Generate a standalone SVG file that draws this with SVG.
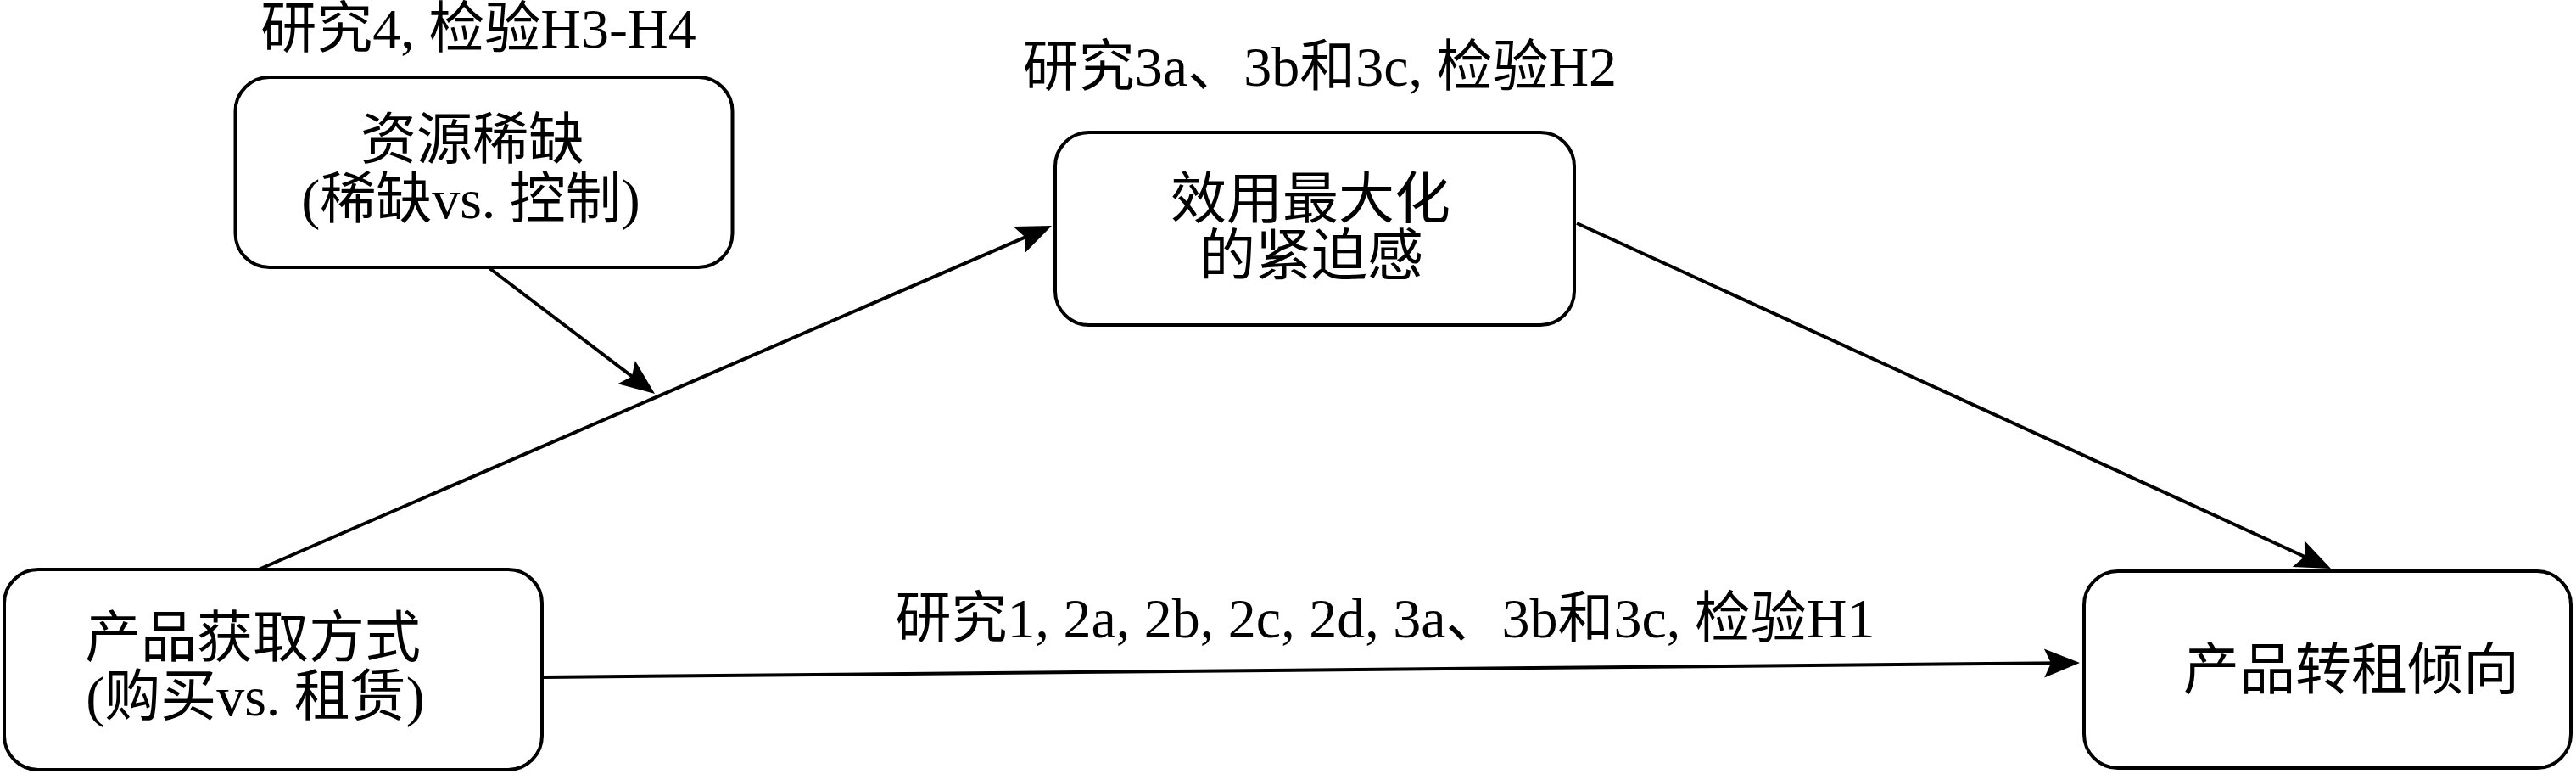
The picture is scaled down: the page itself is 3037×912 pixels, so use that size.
<svg xmlns="http://www.w3.org/2000/svg" width="3037" height="912" viewBox="0 0 3037 912">
<style>
.box{fill:#fff;stroke:#000;stroke-width:4}
.t{font-family:"Liberation Serif","Noto Sans CJK SC",serif;font-size:66px;fill:#000}
.c{text-anchor:middle}
.ln{fill:none;stroke:#000;stroke-width:4}
</style>
<defs>
<marker id="arr" markerUnits="userSpaceOnUse" viewBox="-30 -20 60 40" markerWidth="60" markerHeight="40" refX="0" refY="0" orient="auto" overflow="visible">
<path d="M20,0 L-22,-17 L-14,0 L-22,17 Z" fill="#000"/>
</marker>
</defs>
<rect width="3037" height="912" fill="#fff"/>
<g id="connectors">
<path class="ln" d="M305,671 L1221.6,273.9" marker-end="url(#arr)"/>
<path class="ln" d="M1859,263 L2729.8,661.7" marker-end="url(#arr)"/>
<path class="ln" d="M641,798 L2432,781.2" marker-end="url(#arr)"/>
<path class="ln" d="M577,316 L756.1,451.9" marker-end="url(#arr)"/>
</g>
<g id="labels">
<text class="t c" x="564" y="56">研究4, 检验H3-H4</text>
<text class="t c" x="1556" y="101">研究3a、3b和3c, 检验H2</text>
<text class="t c" x="1633" y="751">研究1, 2a, 2b, 2c, 2d, 3a、3b和3c, 检验H1</text>
</g>
<g id="node-scarcity">
<rect class="box" x="277.5" y="91" width="586" height="224" rx="40"/>
<text class="t c" x="557" y="187">资源稀缺</text>
<text class="t c" x="555" y="257">(稀缺vs. 控制)</text>
</g>
<g id="node-urgency">
<rect class="box" x="1244" y="156" width="612" height="227" rx="40"/>
<text class="t c" x="1545" y="257">效用最大化</text>
<text class="t c" x="1546" y="324">的紧迫感</text>
</g>
<g id="node-acquisition">
<rect class="box" x="5" y="671" width="634" height="236" rx="40"/>
<text class="t c" x="298" y="774">产品获取方式</text>
<text class="t c" x="301" y="843">(购买vs. 租赁)</text>
</g>
<g id="node-sublet">
<rect class="box" x="2457" y="673" width="574" height="232" rx="40"/>
<text class="t c" x="2772" y="812">产品转租倾向</text>
</g>
</svg>
